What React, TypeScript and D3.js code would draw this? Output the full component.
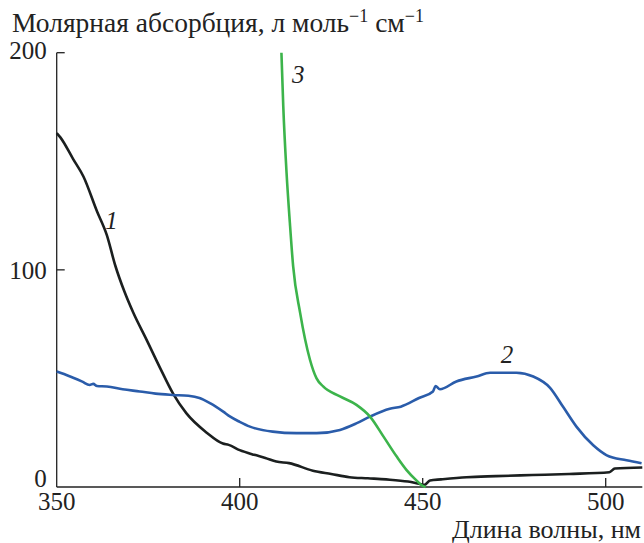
import React from 'react';
import * as d3 from 'd3';

// curve 1 (black)
const wl1 = [350, 351, 354.5, 357.3, 361, 363.7, 366, 368.5, 371, 374.5, 378.2, 381.8, 385.4, 391, 395.4, 397, 400, 404, 407, 410, 413.5, 420, 425, 430, 435, 440, 446, 449, 450.5, 452, 455, 462, 470, 480, 490, 501, 502.5, 510];
const abs1 = [163, 161, 151, 143, 127, 116, 102, 90, 80, 68, 55, 43, 34, 25, 20, 19.4, 17, 14.8, 13.4, 11.7, 11, 7.5, 6, 4.5, 4, 3.5, 2.5, 1.5, 1, 3, 3.5, 4.5, 5, 5.5, 6, 6.8, 8.5, 9];

// curve 2 (blue)
const wl2 = [350, 352, 354.5, 357, 359, 360, 361, 363.7, 368, 372.7, 377, 381.7, 386, 389, 392, 395.5, 397.3, 400, 402.8, 409, 415.5, 421, 427.4, 432, 435.6, 441, 444, 449, 452.8, 453.5, 454.7, 459.2, 464.7, 468.4, 475.6, 480.2, 484.8, 488.4, 492, 496.6, 500.3, 505.7, 509.8];
const abs2 = [53.2, 52, 50.3, 48.5, 47, 47.5, 46.5, 46.3, 45, 44, 43, 42.4, 42, 41, 38.5, 34.7, 32.5, 30, 27.8, 25.5, 24.8, 24.8, 26.3, 29.4, 32.4, 36, 37, 41, 44, 46.5, 45, 48.6, 50.9, 52.6, 52.6, 50.9, 45.7, 36.8, 27.8, 19.2, 14.6, 12.3, 10.9];

// curve 3 (green)
const wl3 = [411.4, 411.9, 412.8, 413.7, 414.6, 416.5, 419.2, 421, 422.8, 427.4, 431.9, 435.6, 439.3, 442.9, 445.6, 448, 450, 450.8];
const abs3 = [200, 175.5, 144.7, 121.8, 101.7, 80.3, 58.6, 50, 46.3, 41.7, 37.8, 32.4, 23.2, 14, 7.8, 3.5, 0.5, 0];

const xTicks = [350, 400, 450, 500];
const yTicks = [0, 100, 200];

const curves = [
  { wl: wl1, abs: abs1, color: '#1b1f1f', label: '1', lx: 365, ly: 123 },
  { wl: wl2, abs: abs2, color: '#2a5caa', label: '2', lx: 473, ly: 61 },
  { wl: wl3, abs: abs3, color: '#3cb44b', label: '3', lx: 416, ly: 190 },
];

const x = d3.scaleLinear().domain([350, 510]).range([56.7, 642.3]);
const y = d3.scaleLinear().domain([0, 200]).range([487, 52.7]);

const line = d3.line<[number, number]>()
  .x(d => x(d[0]))
  .y(d => y(d[1]))
  .curve(d3.curveMonotoneX);

const ink = '#222';

// the end labels sit a little off centre to clear the axis corners
const yLabelShift = (t: number) => (t === 0 ? 0 : t === 200 ? 6 : 9);

export default function App() {
  const x0 = x(350);
  const y0 = y(0);
  return (
    <div style={{ position: 'absolute', left: 0, top: 0 }}>
      <svg width={644} height={543} style={{ display: 'block', background: '#fff', fontFamily: 'Liberation Serif' }}>
        {/* y axis */}
        <line x1={x0} x2={x0} y1={y(200)} y2={y0} stroke={ink} strokeWidth={1.3} />
        {yTicks.map(t => (
          <g key={t}>
            {t !== 0 && <line x1={x0} x2={x0 + 8} y1={y(t)} y2={y(t)} stroke={ink} strokeWidth={1.3} />}
            <text x={x0 - 10} y={y(t) + yLabelShift(t)} textAnchor="end" fontSize={25} fill={ink}>{t}</text>
          </g>
        ))}

        {/* x axis */}
        <line x1={x0} x2={x(510)} y1={y0} y2={y0} stroke={ink} strokeWidth={1.3} />
        {xTicks.map(t => (
          <g key={t}>
            {t !== 350 && <line x1={x(t)} x2={x(t)} y1={y0} y2={y0 - 9} stroke={ink} strokeWidth={1.3} />}
            <text x={x(t)} y={y0 + 23} textAnchor="middle" fontSize={25} fill={ink}>{t}</text>
          </g>
        ))}

        {/* curves */}
        {curves.map(c => {
          const pts = c.wl.map((w, i) => [w, c.abs[i]] as [number, number]);
          return (
            <g key={c.label}>
              <path d={line(pts) || ''} fill="none" stroke={c.color} strokeWidth={2.6} strokeLinejoin="round" />
              <text x={x(c.lx)} y={y(c.ly)} dy="0.35em" textAnchor="middle" fontSize={25} fontStyle="italic" fill={ink}>{c.label}</text>
            </g>
          );
        })}

        {/* axis titles */}
        <text x={12} y={32} fontSize={27.5} fill={ink}>
          <tspan>Молярная абсорбция, л моль</tspan>
          <tspan dy={-10} fontSize={18}>−1</tspan>
          <tspan dy={10}> см</tspan>
          <tspan dy={-10} fontSize={18}>−1</tspan>
        </text>
        <text x={641} y={538} textAnchor="end" fontSize={26} fill={ink}>Длина волны, нм</text>
      </svg>
    </div>
  );
}
